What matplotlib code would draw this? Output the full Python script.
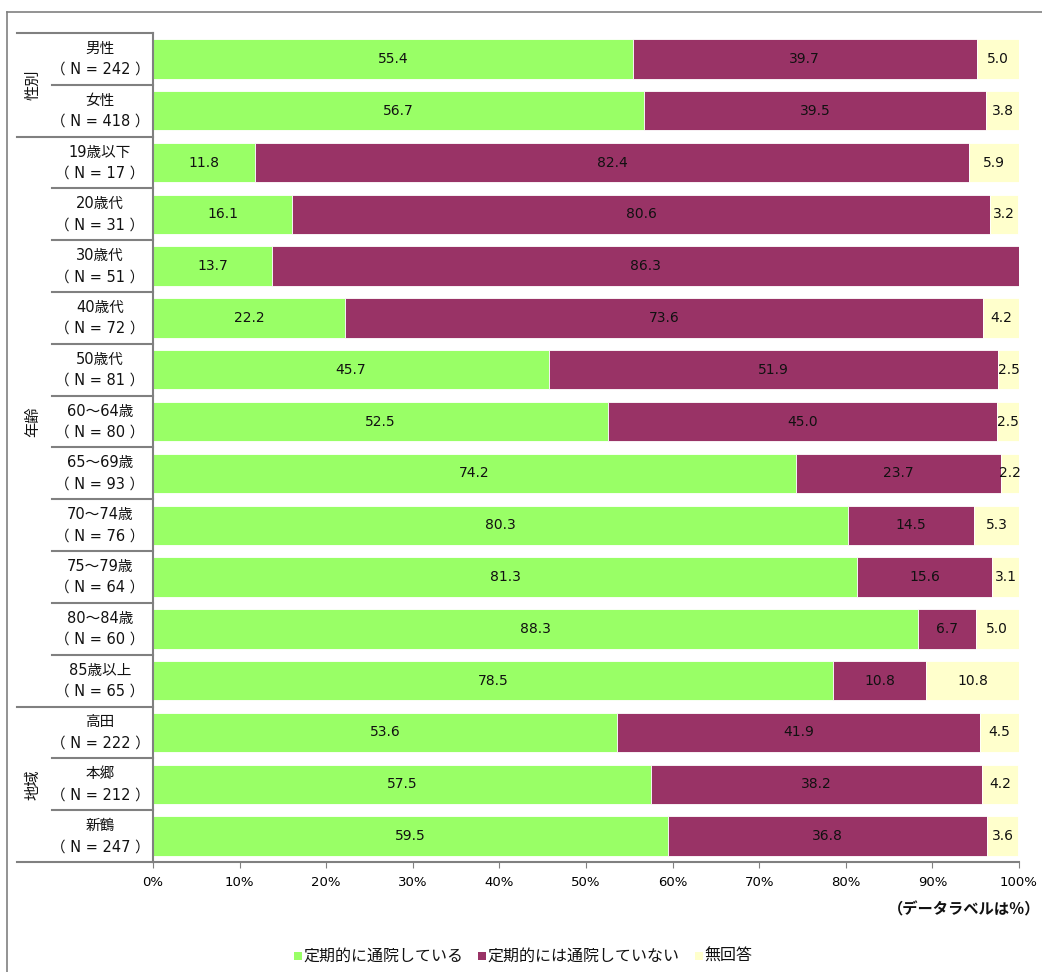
import matplotlib
matplotlib.use("Agg")
import matplotlib.pyplot as plt
from matplotlib.lines import Line2D
from matplotlib.patches import Rectangle
import matplotlib.transforms as mtransforms

plt.rcParams['font.family'] = ['Noto Sans CJK JP', 'DejaVu Sans']

categories = ["男性", "女性", "19歳以下", "20歳代", "30歳代", "40歳代", "50歳代",
              "60～64歳", "65～69歳", "70～74歳", "75～79歳", "80～84歳", "85歳以上",
              "高田", "本郷", "新鶴"]
sample_sizes = [242, 418, 17, 31, 51, 72, 81, 80, 93, 76, 64, 60, 65, 222, 212, 247]
regular = [55.4, 56.7, 11.8, 16.1, 13.7, 22.2, 45.7, 52.5, 74.2, 80.3, 81.3, 88.3, 78.5, 53.6, 57.5, 59.5]
not_regular = [39.7, 39.5, 82.4, 80.6, 86.3, 73.6, 51.9, 45.0, 23.7, 14.5, 15.6, 6.7, 10.8, 41.9, 38.2, 36.8]
no_answer = [5.0, 3.8, 5.9, 3.2, 0.0, 4.2, 2.5, 2.5, 2.2, 5.3, 3.1, 5.0, 10.8, 4.5, 4.2, 3.6]
series_names = ["定期的に通院している", "定期的には通院していない", "無回答"]
series_colors = ["#99FF66", "#993366", "#FFFFCC"]
groups = [("性別", 0, 1), ("年齢", 2, 12), ("地域", 13, 15)]
x_ticks = [0, 10, 20, 30, 40, 50, 60, 70, 80, 90, 100]

W, H = 1042, 972
fig = plt.figure(figsize=(W / 100, H / 100), dpi=100)
ax = fig.add_axes([153 / W, 1 - 862 / H, 866 / W, 829 / H])

n = len(categories)
ys = list(range(n))
series = [regular, not_regular, no_answer]
left = [0.0] * n
for vals, color in zip(series, series_colors):
    ax.barh(ys, vals, left=left, height=0.76, color=color,
            edgecolor="white", linewidth=0.6)
    for y, l, v in zip(ys, left, vals):
        if v > 0:
            ax.text(l + v / 2, y, f"{v:.1f}", ha="center", va="center",
                    fontsize=10, family="DejaVu Sans", color="#111111")
    left = [a + b for a, b in zip(left, vals)]

ax.set_xlim(0, 100)
ax.set_ylim(n - 0.5, -0.5)
ax.set_xticks(x_ticks)
ax.set_xticklabels([f"{t}%" for t in x_ticks], fontsize=9.5, family="DejaVu Sans")
ax.set_yticks([])
ax.tick_params(axis="x", length=4, color="#808080", pad=6)
for s in ["top", "right"]:
    ax.spines[s].set_visible(False)
for s in ["left", "bottom"]:
    ax.spines[s].set_color("#808080")
    ax.spines[s].set_linewidth(1.5)

# row table to the left of the bars
trans = mtransforms.blended_transform_factory(ax.transAxes, ax.transData)
x_outer = (17 - 153) / 866
x_inner = (52 - 153) / 866
x_label = (100 - 153) / 866
x_group = (33 - 153) / 866
group_edges = {-0.5} | {g[2] + 0.5 for g in groups}
for b in [i - 0.5 for i in range(n + 1)]:
    x0 = x_outer if b in group_edges else x_inner
    ax.add_line(Line2D([x0, 0], [b, b], transform=trans, color="#808080",
                       linewidth=1.5, clip_on=False))
for y, (cat, nn) in enumerate(zip(categories, sample_sizes)):
    ax.text(x_label, y, f"{cat}\n（ N = {nn} ）", transform=trans, ha="center",
            va="center", fontsize=10.5, linespacing=1.5, color="#111111",
            family=["DejaVu Sans", "Noto Sans CJK JP"])
for name, a, b in groups:
    ax.text(x_group, (a + b) / 2, name, transform=trans, ha="center", va="center",
            rotation=90, fontsize=11, color="#111111")

fig.text(1040 / W, 1 - 909 / H, "（データラベルは％）", ha="right", va="center",
         fontsize=11, fontweight="bold", color="#111111")

# legend
legend_items = [(294, series_colors[0], series_names[0]),
                (478, series_colors[1], series_names[1]),
                (695, series_colors[2], series_names[2])]
for x, color, name in legend_items:
    fig.patches.append(Rectangle((x / W, 1 - 960 / H), 8 / W, 8 / H,
                                 transform=fig.transFigure, facecolor=color,
                                 edgecolor="none"))
    fig.text((x + 9) / W, 1 - 956 / H, name, ha="left", va="center",
             fontsize=11.5, color="#111111")

# outer frame
fig.lines.append(Line2D([7 / W, 1], [1 - 12 / H, 1 - 12 / H],
                        transform=fig.transFigure, color="#808080", linewidth=1.2))
fig.lines.append(Line2D([7 / W, 7 / W], [0, 1 - 12 / H],
                        transform=fig.transFigure, color="#808080", linewidth=1.2))

fig.savefig("out.png", dpi=100, facecolor="white")
